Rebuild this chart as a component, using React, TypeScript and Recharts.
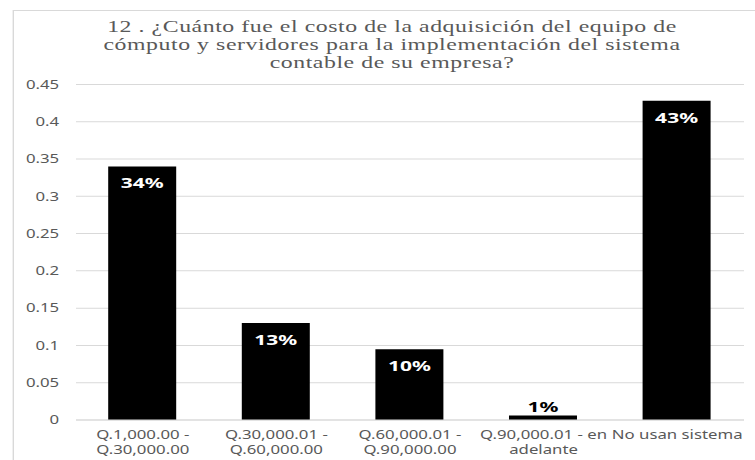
import React from 'react';
import { BarChart, Bar, XAxis, YAxis, CartesianGrid, LabelList } from 'recharts';

// the original picture is stretched sideways, so the whole chart is drawn narrower and scaled on x
const STRETCH = 1.4;
const PAGE_W = 755;
const PAGE_H = 460;
const CHART_W = PAGE_W / STRETCH;

const titleLines = [
    '12 . ¿Cuánto fue el costo de la adquisición del equipo de',
    'cómputo y servidores para la implementación del sistema',
    'contable de su empresa?',
];

const categories = [
    'Q.1,000.00 -\nQ.30,000.00',
    'Q.30,000.01 -\nQ.60,000.00',
    'Q.60,000.01 -\nQ.90,000.00',
    'Q.90,000.01 - en\nadelante',
    'No usan sistema',
];

const values = [0.34, 0.13, 0.095, 0.006, 0.428];

const yTicks = [0, 0.05, 0.1, 0.15, 0.2, 0.25, 0.3, 0.35, 0.4, 0.45];

const data = categories.map((cat, i) => ({ cat, value: values[i] }));

const GRAY = '#595959';
const GRID = '#d9d9d9';
const SANS = '"Noto Sans", "Open Sans", sans-serif';

const CategoryTick = (props: any) => {
    const { x, y, payload } = props;
    const lines = String(payload.value).split('\n');
    return (
        <text x={x} y={y} textAnchor="middle" fill={GRAY} fontSize={12} fontFamily={SANS}>
            {lines.map((line, i) => (
                <tspan key={i} x={x} dy={i === 0 ? 11 : 15}>
                    {line}
                </tspan>
            ))}
        </text>
    );
};

const PercentLabel = (props: any) => {
    const { x, y, width, value } = props;
    const cx = Number(x) + Number(width) / 2;
    const text = Math.round(Number(value) * 100) + '%';
    // tiny bars get their label above, in black
    const small = Number(value) < 0.05;
    return (
        <text
            x={cx}
            y={small ? Number(y) - 9 : Number(y) + 16}
            textAnchor="middle"
            dominantBaseline="central"
            fill={small ? '#000' : '#fff'}
            fontSize={15}
            fontWeight="bold"
            fontFamily={SANS}
        >
            {text}
        </text>
    );
};

export default function App() {
    return (
        <div style={{ position: 'absolute', left: 0, top: 0, width: PAGE_W, height: PAGE_H, overflow: 'hidden', background: '#fff' }}>
            <div style={{ position: 'absolute', left: 0, top: 0, width: CHART_W, height: PAGE_H, transform: `scaleX(${STRETCH})`, transformOrigin: '0 0' }}>
                <div style={{ position: 'absolute', left: 12 / STRETCH, top: 10, width: 2000, height: 1000, border: `1px solid ${GRID}` }} />
                <svg style={{ position: 'absolute', left: 0, top: 0 }} width={CHART_W} height={80}>
                    {titleLines.map((line, i) => (
                        <text
                            key={i}
                            x={392 / STRETCH}
                            y={32 + i * 18}
                            textAnchor="middle"
                            fill={GRAY}
                            fontSize={17}
                            letterSpacing={0.4}
                            fontFamily='"Liberation Serif", "Times New Roman", serif'
                        >
                            {line}
                        </text>
                    ))}
                </svg>
                <div style={{ position: 'absolute', left: 0, top: 0 }}>
                    <BarChart
                        width={CHART_W}
                        height={PAGE_H}
                        data={data}
                        margin={{ top: 84.4, right: CHART_W - 744 / STRETCH, bottom: 0, left: 0 }}
                    >
                        <CartesianGrid vertical={false} stroke={GRID} />
                        <XAxis
                            dataKey="cat"
                            interval={0}
                            height={40}
                            tickLine={false}
                            axisLine={{ stroke: GRID }}
                            tick={<CategoryTick />}
                        />
                        <YAxis
                            width={76 / STRETCH}
                            domain={[0, 0.45]}
                            ticks={yTicks}
                            tickLine={false}
                            axisLine={false}
                            tickMargin={6}
                            tick={{ fill: GRAY, fontSize: 12, fontFamily: SANS }}
                        />
                        <Bar dataKey="value" fill="#000" barSize={68 / STRETCH} isAnimationActive={false}>
                            <LabelList dataKey="value" content={<PercentLabel />} />
                        </Bar>
                    </BarChart>
                </div>
            </div>
        </div>
    );
}
